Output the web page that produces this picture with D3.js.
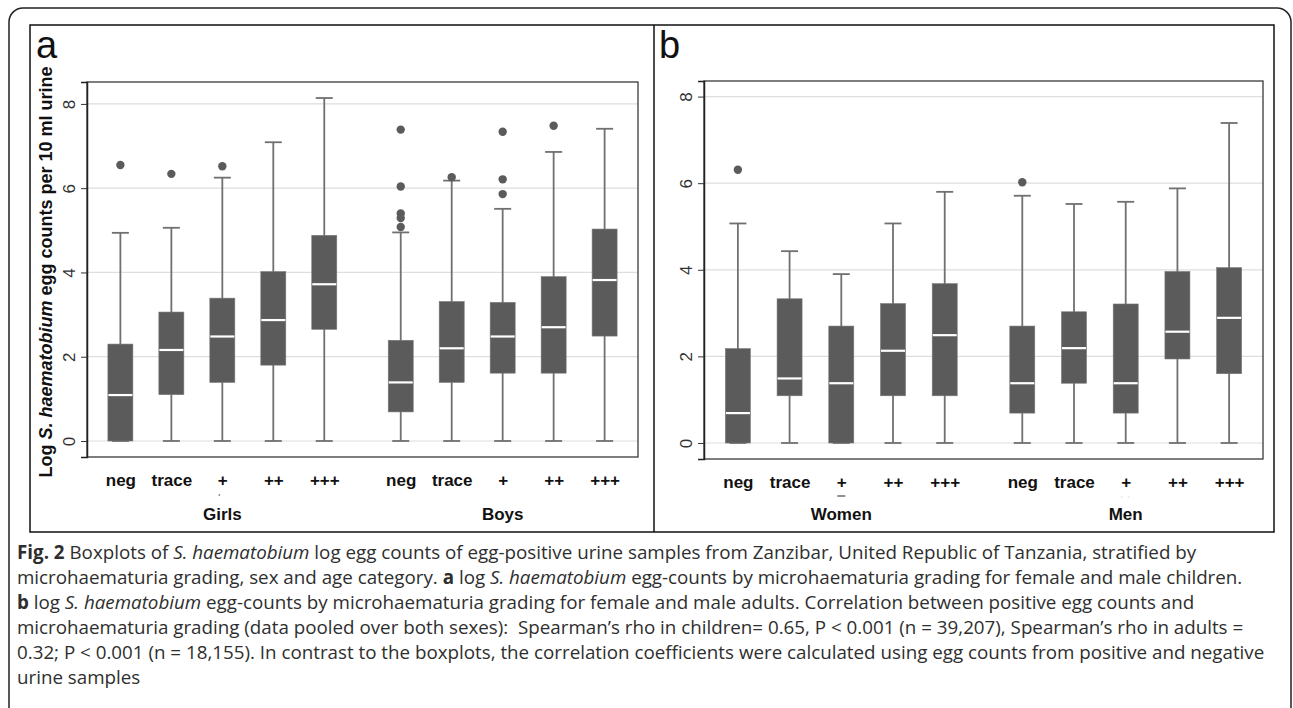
<!DOCTYPE html>
<html>
<head>
<meta charset="utf-8">
<script src="https://cdn.jsdelivr.net/npm/d3@7"></script>
<style>
  body { margin: 0; background: #fff; }
  svg { display: block; }
</style>
</head>
<body>
<script>
// Grading categories on the x axis
const grades = ["neg", "trace", "+", "++", "+++"];
const yTicks = [0, 2, 4, 6, 8];

// Box stats per grade: [lower whisker, q1, median, q3, upper whisker]
const girlsStats = [[0, 0, 1.09, 2.30, 4.94], [0, 1.10, 2.16, 3.06, 5.06], [0, 1.39, 2.48, 3.39, 6.25], [0, 1.80, 2.87, 4.02, 7.09], [0, 2.65, 3.72, 4.88, 8.14]];
const girlsOutliers = [[6.55], [6.34], [6.52], [], []];
const boysStats = [[0, 0.69, 1.39, 2.39, 4.95], [0, 1.39, 2.20, 3.31, 6.18], [0, 1.61, 2.48, 3.29, 5.51], [0, 1.61, 2.70, 3.90, 6.86], [0, 2.49, 3.82, 5.03, 7.41]];
const boysOutliers = [[7.39, 6.04, 5.40, 5.29, 5.08], [6.26], [7.34, 6.21, 5.86], [7.48], []];
const womenStats = [[0, 0, 0.69, 2.18, 5.07], [0, 1.09, 1.49, 3.33, 4.43], [0, 0, 1.38, 2.70, 3.90], [0, 1.09, 2.13, 3.22, 5.07], [0, 1.09, 2.49, 3.68, 5.80]];
const womenOutliers = [[6.31], [], [], [], []];
const menStats = [[0, 0.69, 1.38, 2.70, 5.71], [0, 1.38, 2.19, 3.03, 5.52], [0, 0.69, 1.38, 3.21, 5.57], [0, 1.94, 2.57, 3.96, 5.88], [0, 1.60, 2.89, 4.05, 7.39]];
const menOutliers = [[6.02], [], [], [], []];

// Caption lines, split into [text, style] runs
const captionLines = [
  [["Fig. 2", "b"], [" Boxplots of ", ""], ["S. haematobium", "i"], [" log egg counts of egg-positive urine samples from Zanzibar, United Republic of Tanzania, stratified by", ""]],
  [["microhaematuria grading, sex and age category. ", ""], ["a", "b"], [" log ", ""], ["S. haematobium", "i"], [" egg-counts by microhaematuria grading for female and male children.", ""]],
  [["b", "b"], [" log ", ""], ["S. haematobium", "i"], [" egg-counts by microhaematuria grading for female and male adults. Correlation between positive egg counts and", ""]],
  [["microhaematuria grading (data pooled over both sexes):  Spearman\u2019s rho in children= 0.65, P < 0.001 (n = 39,207), Spearman\u2019s rho in adults =", ""]],
  [["0.32; P < 0.001 (n = 18,155). In contrast to the boxplots, the correlation coefficients were calculated using egg counts from positive and negative", ""]],
  [["urine samples", ""]]
];

const width = 1293;
const height = 708;
const boxColor = "#5b5b5b";
const whiskerColor = "#707070";
const labelFont = "'Liberation Sans', Arial, Helvetica, sans-serif";

const svg = d3.select("body").append("svg")
  .attr("width", width)
  .attr("height", height);

// Outer rounded frame and inner figure frame
svg.append("rect")
  .attr("x", 9).attr("y", 8).attr("width", 1282).attr("height", 730)
  .attr("rx", 14)
  .attr("fill", "none").attr("stroke", "#222").attr("stroke-width", 1.5);

svg.append("rect")
  .attr("x", 30).attr("y", 25).attr("width", 1244).attr("height", 507)
  .attr("fill", "none").attr("stroke", "#111").attr("stroke-width", 1.5);

svg.append("line")
  .attr("x1", 654).attr("x2", 654).attr("y1", 25).attr("y2", 532)
  .attr("stroke", "#111").attr("stroke-width", 1.5);

function drawPanel(cfg) {
  const g = svg.append("g");
  const pad = 0.655;
  const x = d3.scaleLinear()
    .domain([-pad, 9.5 + pad])
    .range([cfg.left, cfg.right]);
  const y = d3.scaleLinear()
    .domain(cfg.yDomain)
    .range([cfg.bottom, cfg.top]);

  // gridlines
  g.append("g")
    .selectAll("line")
    .data(yTicks)
    .enter().append("line")
      .attr("x1", cfg.left).attr("x2", cfg.right)
      .attr("y1", d => y(d)).attr("y2", d => y(d))
      .attr("stroke", "#dedede").attr("stroke-width", 1.2);

  // plot region outline
  g.append("rect")
    .attr("x", cfg.left).attr("y", cfg.top)
    .attr("width", cfg.right - cfg.left).attr("height", cfg.bottom - cfg.top)
    .attr("fill", "none").attr("stroke", "#3a3a3a").attr("stroke-width", 1.3);

  // y axis
  const yAxis = g.append("g")
    .attr("transform", `translate(${cfg.left},0)`)
    .call(d3.axisLeft(y).tickValues(yTicks).tickSize(6).tickPadding(12));
  yAxis.select(".domain").attr("stroke", "#222").attr("stroke-width", 1.5);
  yAxis.selectAll(".tick line").attr("stroke", "#333");
  yAxis.selectAll(".tick text")
    .attr("font-family", labelFont)
    .attr("font-size", 17)
    .attr("fill", "#333")
    .attr("text-anchor", "middle")
    .attr("dy", null)
    .attr("dominant-baseline", "central")
    .attr("transform", function() {
      const tx = d3.select(this).attr("x");
      return `rotate(-90,${tx},0)`;
    });

  // flatten groups into boxes
  const boxes = [];
  cfg.groups.forEach((grp, gi) => {
    grp.stats.forEach((s, ci) => {
      boxes.push({
        slot: gi * 5.5 + ci,
        grade: grades[ci],
        lo: s[0], q1: s[1], med: s[2], q3: s[3], hi: s[4],
        outliers: grp.outliers[ci]
      });
    });
  });

  const boxW = 25;
  const capW = 17;

  const b = g.append("g").selectAll("g")
    .data(boxes)
    .enter().append("g")
      .attr("transform", d => `translate(${x(d.slot)},0)`);

  // whiskers
  b.append("line")
    .attr("y1", d => y(d.lo)).attr("y2", d => y(d.hi))
    .attr("stroke", whiskerColor).attr("stroke-width", 1.8);
  b.append("line")
    .attr("x1", -capW / 2).attr("x2", capW / 2)
    .attr("y1", d => y(d.hi)).attr("y2", d => y(d.hi))
    .attr("stroke", whiskerColor).attr("stroke-width", 1.8);
  b.append("line")
    .attr("x1", -capW / 2).attr("x2", capW / 2)
    .attr("y1", d => y(d.lo)).attr("y2", d => y(d.lo))
    .attr("stroke", whiskerColor).attr("stroke-width", 1.8);

  // boxes
  b.append("rect")
    .attr("x", -boxW / 2).attr("width", boxW)
    .attr("y", d => y(d.q3))
    .attr("height", d => y(d.q1) - y(d.q3))
    .attr("fill", boxColor)
    .attr("stroke", "#777").attr("stroke-width", 0.6);

  // median line
  b.append("line")
    .attr("x1", -boxW / 2 + 0.5).attr("x2", boxW / 2 - 0.5)
    .attr("y1", d => y(d.med)).attr("y2", d => y(d.med))
    .attr("stroke", "#fff").attr("stroke-width", 2.2);

  // outliers
  b.selectAll("circle")
    .data(d => d.outliers)
    .enter().append("circle")
      .attr("cy", d => y(d))
      .attr("r", 4.2)
      .attr("fill", boxColor);

  // category labels
  const xAxis = g.append("g")
    .attr("transform", `translate(0,${cfg.bottom})`)
    .call(d3.axisBottom(x)
      .tickValues(boxes.map(d => d.slot))
      .tickFormat((d, i) => boxes[i].grade)
      .tickSize(0)
      .tickPadding(17));
  xAxis.select(".domain").remove();
  xAxis.selectAll(".tick text")
    .attr("font-family", labelFont)
    .attr("font-size", 17)
    .attr("font-weight", "bold")
    .attr("fill", "#111")
    .attr("dy", "0.71em");

  // group labels
  g.append("g")
    .selectAll("text")
    .data(cfg.groups)
    .enter().append("text")
      .attr("x", (d, gi) => x(gi * 5.5 + 2))
      .attr("y", 520)
      .attr("text-anchor", "middle")
      .attr("font-family", labelFont)
      .attr("font-size", 17)
      .attr("font-weight", "bold")
      .attr("fill", "#111")
      .text(d => d.name);

  // panel letter
  g.append("text")
    .attr("x", cfg.letterX).attr("y", 58)
    .attr("font-family", labelFont)
    .attr("font-size", 38)
    .attr("fill", "#111")
    .text(cfg.letter);

  return { x, y, g };
}

const pa = drawPanel({
  left: 87, right: 638, top: 82, bottom: 457,
  yDomain: [-0.38, 8.52],
  letter: "a", letterX: 36,
  groups: [
    { name: "Girls", stats: girlsStats, outliers: girlsOutliers },
    { name: "Boys", stats: boysStats, outliers: boysOutliers }
  ]
});

const pb = drawPanel({
  left: 704, right: 1263, top: 81, bottom: 459,
  yDomain: [-0.37, 8.36],
  letter: "b", letterX: 659,
  groups: [
    { name: "Women", stats: womenStats, outliers: womenOutliers },
    { name: "Men", stats: menStats, outliers: menOutliers }
  ]
});

// stray marks under some "+" labels in the source figure
pa.g.append("circle")
  .attr("cx", pa.x(2) - 3).attr("cy", 495).attr("r", 0.9).attr("fill", "#888");
pb.g.append("line")
  .attr("x1", pb.x(2) - 4).attr("x2", pb.x(2) + 4)
  .attr("y1", 496).attr("y2", 496)
  .attr("stroke", "#555").attr("stroke-width", 1.3);
pb.g.append("line")
  .attr("x1", pb.x(7.5) - 5).attr("x2", pb.x(7.5) + 5)
  .attr("y1", 497).attr("y2", 497)
  .attr("stroke", "#ddd").attr("stroke-width", 1)
  .attr("stroke-dasharray", "2,5");

// y axis title for panel a
const yTitle = svg.append("text")
  .attr("transform", "translate(52,272) rotate(-90)")
  .attr("text-anchor", "middle")
  .attr("font-family", labelFont)
  .attr("font-size", 18)
  .attr("font-weight", "bold")
  .attr("fill", "#111");
yTitle.append("tspan").text("Log ");
yTitle.append("tspan").attr("font-style", "italic").text("S. haematobium");
yTitle.append("tspan").text(" egg counts per 10 ml urine");

// caption
const capFont = "'Open Sans', 'Noto Sans', sans-serif";
const capText = svg.append("g").selectAll("text")
  .data(captionLines)
  .enter().append("text")
    .attr("x", 17)
    .attr("y", (d, i) => 559 + i * 25)
    .attr("font-family", capFont)
    .attr("font-size", 16)
    .attr("fill", "#2e2e2e")
    .attr("xml:space", "preserve")
    .style("white-space", "pre");
capText.selectAll("tspan")
  .data(d => d)
  .enter().append("tspan")
    .attr("font-weight", d => d[1] === "b" ? "bold" : null)
    .attr("font-style", d => d[1] === "i" ? "italic" : null)
    .text(d => d[0]);

// fit the caption font so the first line ends where the source does
const firstLen = capText.node().getComputedTextLength();
capText.attr("font-size", 16 * 1180 / firstLen);
</script>
</body>
</html>
